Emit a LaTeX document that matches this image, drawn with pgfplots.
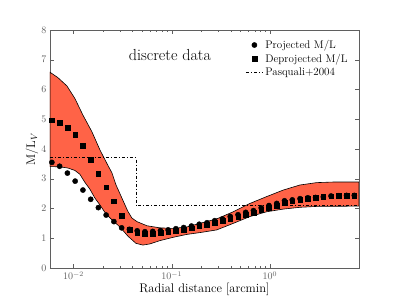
\documentclass[border=0pt]{standalone}
\usepackage{fontspec}
\usepackage{pgfplots}
\pgfplotsset{compat=1.18}
\definecolor{tomato}{RGB}{255,99,71}
\definecolor{axgray}{RGB}{95,95,95}
\begin{document}
\begin{tikzpicture}
\begin{axis}[
 scale only axis, width=309pt, height=238pt,
 xmode=log, xmin=0.00578, xmax=8.05, ymin=0, ymax=8,
 xtick={0.01,0.1,1}, ytick={0,1,2,3,4,5,6,7,8},
 axis line style={axgray}, tick style={axgray},
 major tick length=4pt, minor tick length=2pt,
 tick label style={font=\fontsize{10}{12}\selectfont, text=axgray},
 xlabel={Radial distance [arcmin]}, ylabel={M/L$_V$},
 label style={font=\fontsize{12.5}{15}\selectfont},
 xlabel style={at={(axis description cs:0.5,-0.088)}, anchor=center},
 ylabel style={at={(axis description cs:-0.058,0.5)}, anchor=center},
 legend style={draw=none, fill=none, at={(0.98,0.975)}, anchor=north east, font=\fontsize{11}{13}\selectfont},
 legend cell align=left,
]
% band: upper curve forward, lower curve backward
\addplot[fill=tomato, draw=black, line width=0.6pt, forget plot] coordinates {
(0.00578,6.58) (0.00695,6.40) (0.00859,6.12) (0.01035,5.70) (0.01250,5.14) (0.01543,4.58) (0.01862,3.97)
(0.02244,3.45) (0.02466,3.20) (0.02708,2.80) (0.02973,2.50) (0.03266,2.20) (0.03589,1.90) (0.03936,1.68)
(0.04429,1.56) (0.05598,1.42) (0.07590,1.35) (0.1030,1.33) (0.1429,1.38) (0.1939,1.50) (0.2871,1.65)
(0.4230,1.89) (0.6252,2.17) (0.9247,2.40) (1.365,2.62) (2.018,2.79) (2.985,2.87) (4.406,2.89) (8.05,2.89)
(8.05,2.08) (2.985,2.07) (2.018,2.04) (1.365,1.98) (0.9247,1.89) (0.6252,1.73) (0.4230,1.50) (0.2871,1.28)
(0.1939,1.19) (0.1429,1.13) (0.1030,1.03) (0.07590,0.92) (0.06006,0.81) (0.05093,0.77) (0.04325,0.83)
(0.03589,1.07) (0.02973,1.38) (0.02466,1.62) (0.02142,1.82) (0.01862,2.12) (0.01655,2.35) (0.01472,2.65)
(0.01309,2.88) (0.01164,3.15) (0.01035,3.28) (0.00879,3.36) (0.00729,3.40) (0.00578,3.41)
} -- cycle;
\addplot[only marks, mark=*, mark size=2.6pt, black] coordinates {
(0.00604,3.55) (0.00724,3.42) (0.00869,3.19) (0.01042,2.92) (0.01250,2.62) (0.01500,2.31) (0.01795,2.03)
(0.02153,1.78) (0.02582,1.56) (0.03097,1.35) (0.03715,1.30) (0.04457,1.25) (0.05346,1.22) (0.06412,1.23)
(0.07691,1.26) (0.09204,1.28) (0.1104,1.32) (0.1324,1.36) (0.1589,1.41) (0.1905,1.47) (0.2286,1.52)
(0.2742,1.59) (0.3289,1.65) (0.3945,1.73) (0.4732,1.79) (0.5662,1.87) (0.6792,1.93) (0.8147,2.02)
(0.9772,2.10) (1.172,2.17) (1.406,2.26) (1.687,2.29) (2.023,2.33) (2.427,2.36) (2.911,2.37) (3.491,2.39)
(4.178,2.42) (5.012,2.43) (6.012,2.44) (7.211,2.44)
};
\addlegendentry{Projected M/L}
\addplot[only marks, mark=square*, mark size=2.3pt, black] coordinates {
(0.00604,4.97) (0.00724,4.88) (0.00869,4.72) (0.01042,4.48) (0.01250,4.11) (0.01500,3.65) (0.01795,3.16)
(0.02153,2.71) (0.02582,2.25) (0.03097,1.76) (0.03715,1.28) (0.04457,1.18) (0.05346,1.15) (0.06412,1.16)
(0.07691,1.19) (0.09204,1.21) (0.1104,1.25) (0.1324,1.29) (0.1589,1.34) (0.1905,1.40) (0.2286,1.45)
(0.2742,1.52) (0.3289,1.58) (0.3945,1.66) (0.4732,1.72) (0.5662,1.80) (0.6792,1.86) (0.8147,1.95)
(0.9772,2.03) (1.172,2.10) (1.406,2.19) (1.687,2.25) (2.023,2.30) (2.427,2.33) (2.911,2.37) (3.491,2.39)
(4.178,2.42) (5.012,2.43) (6.012,2.44) (7.211,2.44)
};
\addlegendentry{Deprojected M/L}
\addplot[black, line width=0.8pt, dash pattern=on 3pt off 2pt on 1pt off 2pt, mark=none] coordinates {
(0.00578,3.71) (0.0434,3.71) (0.0434,2.09) (8.05,2.09)
};
\addlegendentry{Pasquali+2004}
\node[font=\fontsize{16}{19}\selectfont] at (rel axis cs:0.388,0.895) {discrete data};
\end{axis}
\pgfresetboundingbox
\path[use as bounding box] (-50pt,-31pt) rectangle (349pt,268pt);
\end{tikzpicture}
\end{document}
